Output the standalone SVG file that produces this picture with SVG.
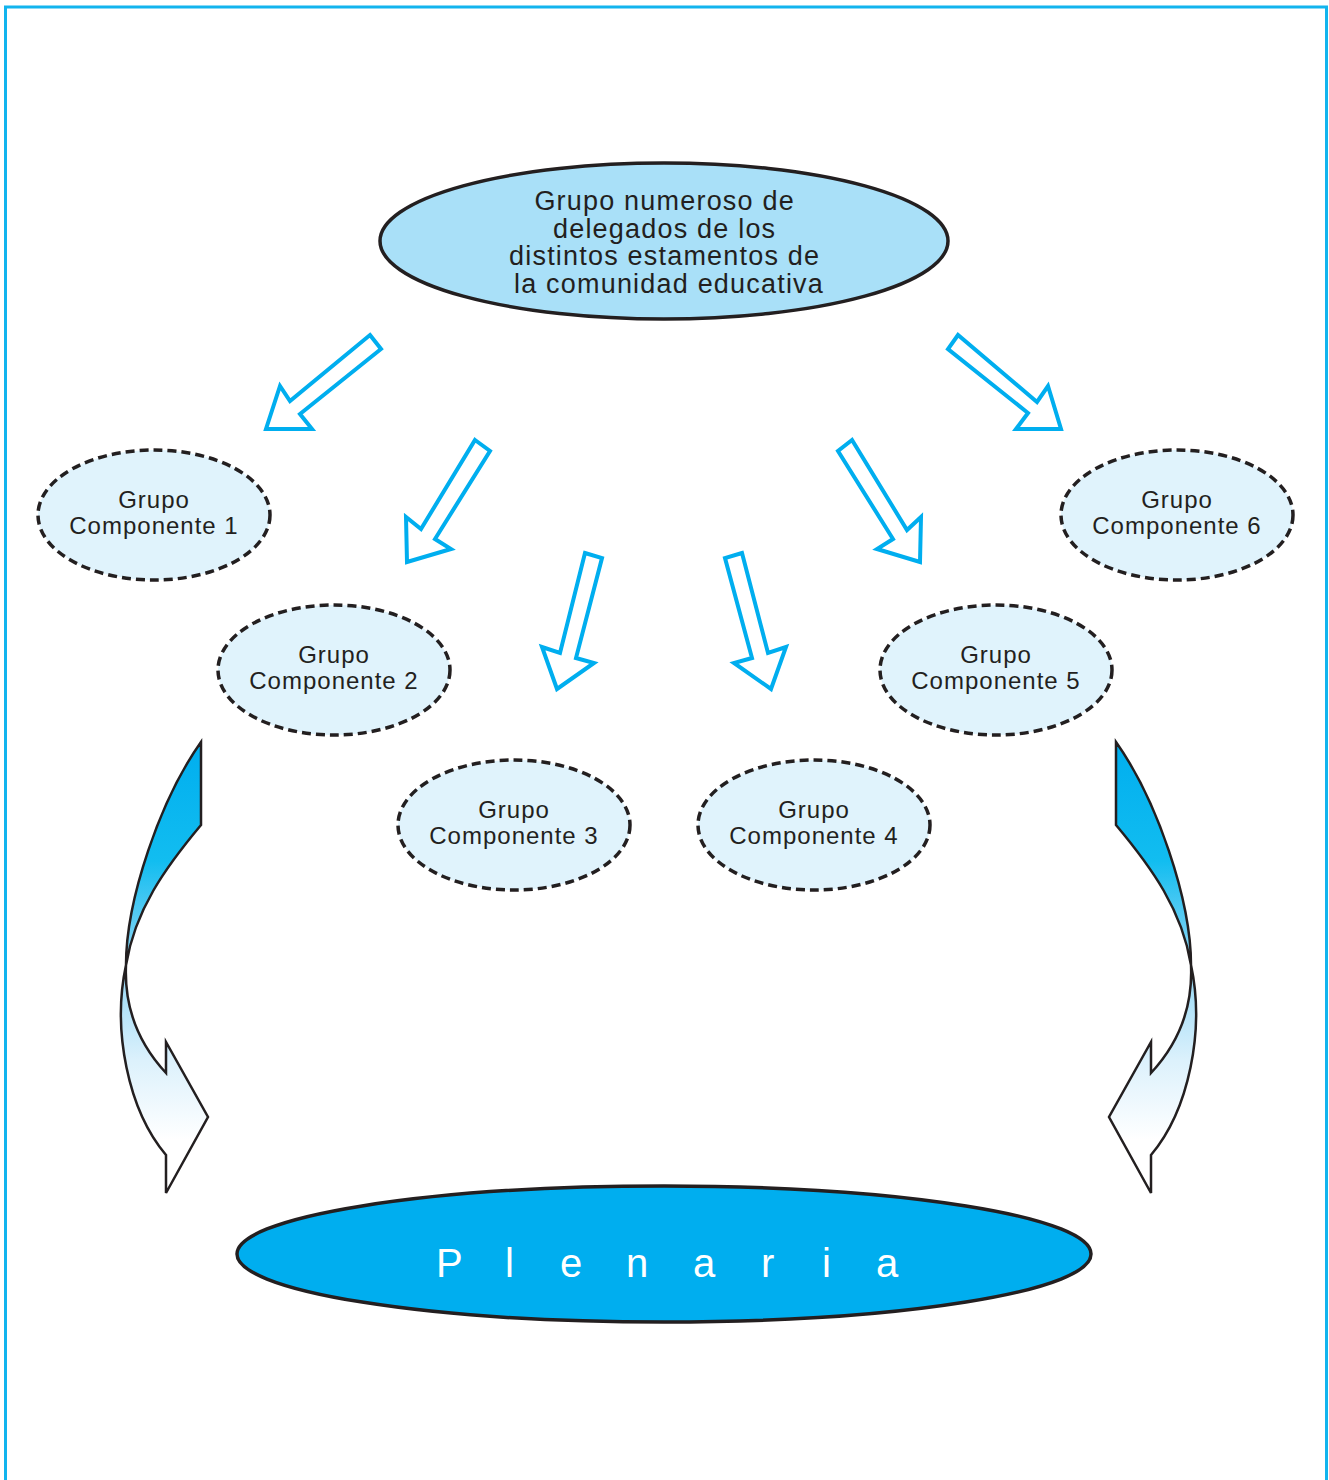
<svg xmlns="http://www.w3.org/2000/svg" width="1329" height="1480" viewBox="0 0 1329 1480">
<style>
.frame{fill:none;stroke:#12b4ee;stroke-width:3}
.arrow{fill:#fff;stroke:#00aeef;stroke-width:4;stroke-linejoin:miter}
.grp ellipse{fill:#e0f3fc;stroke:#231f20;stroke-width:3.5;stroke-dasharray:9 5}
.lbl{font-family:"Liberation Sans",Arial,sans-serif;fill:#231f20;text-anchor:middle}
.g{font-size:24px;letter-spacing:1px}
.curve{fill:url(#cg);stroke:#231f20;stroke-width:2.5;stroke-linejoin:miter}
</style>
<defs>
<linearGradient id="cg" gradientUnits="userSpaceOnUse" x1="0" y1="742" x2="0" y2="1140">
<stop offset="0" stop-color="#00aeef"/>
<stop offset="0.3" stop-color="#12bdf0"/>
<stop offset="0.55" stop-color="#8ed6f5"/>
<stop offset="0.8" stop-color="#dcf1fc"/>
<stop offset="1" stop-color="#ffffff"/>
</linearGradient>
<path id="curveL" d="M201,742 L201,825 C165,868 135,910 126,965 C124,1010 140,1045 166,1073 L166,1042 L208,1117 L166,1193 L166,1155 C128,1110 112,1030 126,965 C126,900 160,800 201,742 Z"/>
</defs>
<rect width="1329" height="1480" fill="#fff"/>
<path class="frame" d="M5.5,1480 V7 H1326.5 V1480"/>

<g id="connectors">
<polygon class="arrow" points="370,335 381,349 300,414 312,429 266,429 280,386 290,401"/>
<polygon class="arrow" points="475,440 490,451 435,539 451,549 407,562 406,517 421,529"/>
<polygon class="arrow" points="585,553 602,558 576,658 594,663 557,689 542,647 560,653"/>
<polygon class="arrow" points="742,553 725,558 752,658 734,663 771,689 786,647 768,653"/>
<polygon class="arrow" points="852,440 838,451 893,539 877,549 920,562 921,517 907,530"/>
<polygon class="arrow" points="958,335 948,349 1028,413 1016,429 1061,429 1048,386 1037,402"/>
<use href="#curveL" class="curve"/>
<use href="#curveL" class="curve" transform="translate(1317,0) scale(-1,1)"/>
</g>

<g id="node-top">
<ellipse cx="664" cy="241" rx="284" ry="78" fill="#a9e0f8" stroke="#231f20" stroke-width="3.5"/>
<text class="lbl" font-size="27" letter-spacing="1.2">
<tspan x="669" y="210">Grupo numeroso de</tspan>
<tspan x="669" y="237.5">delegados de los</tspan>
<tspan x="669" y="265">distintos estamentos de</tspan>
<tspan x="669" y="292.5">la comunidad educativa</tspan>
</text>
</g>

<g id="node-g1" class="grp">
<ellipse cx="154" cy="515" rx="116" ry="65"/>
<text class="lbl g"><tspan x="154" y="508">Grupo</tspan><tspan x="154" y="534">Componente 1</tspan></text>
</g>
<g id="node-g2" class="grp">
<ellipse cx="334" cy="670" rx="116" ry="65"/>
<text class="lbl g"><tspan x="334" y="663">Grupo</tspan><tspan x="334" y="689">Componente 2</tspan></text>
</g>
<g id="node-g3" class="grp">
<ellipse cx="514" cy="825" rx="116" ry="65"/>
<text class="lbl g"><tspan x="514" y="818">Grupo</tspan><tspan x="514" y="844">Componente 3</tspan></text>
</g>
<g id="node-g4" class="grp">
<ellipse cx="814" cy="825" rx="116" ry="65"/>
<text class="lbl g"><tspan x="814" y="818">Grupo</tspan><tspan x="814" y="844">Componente 4</tspan></text>
</g>
<g id="node-g5" class="grp">
<ellipse cx="996" cy="670" rx="116" ry="65"/>
<text class="lbl g"><tspan x="996" y="663">Grupo</tspan><tspan x="996" y="689">Componente 5</tspan></text>
</g>
<g id="node-g6" class="grp">
<ellipse cx="1177" cy="515" rx="116" ry="65"/>
<text class="lbl g"><tspan x="1177" y="508">Grupo</tspan><tspan x="1177" y="534">Componente 6</tspan></text>
</g>

<g id="node-plenaria">
<ellipse cx="664" cy="1254" rx="427" ry="68" fill="#00aeef" stroke="#231f20" stroke-width="3.5"/>
<text font-family="'Liberation Sans',Arial,sans-serif" font-size="40" fill="#fff" x="436 505 560 626 693 761 822 876" y="1277">Plenaria</text>
</g>
</svg>
